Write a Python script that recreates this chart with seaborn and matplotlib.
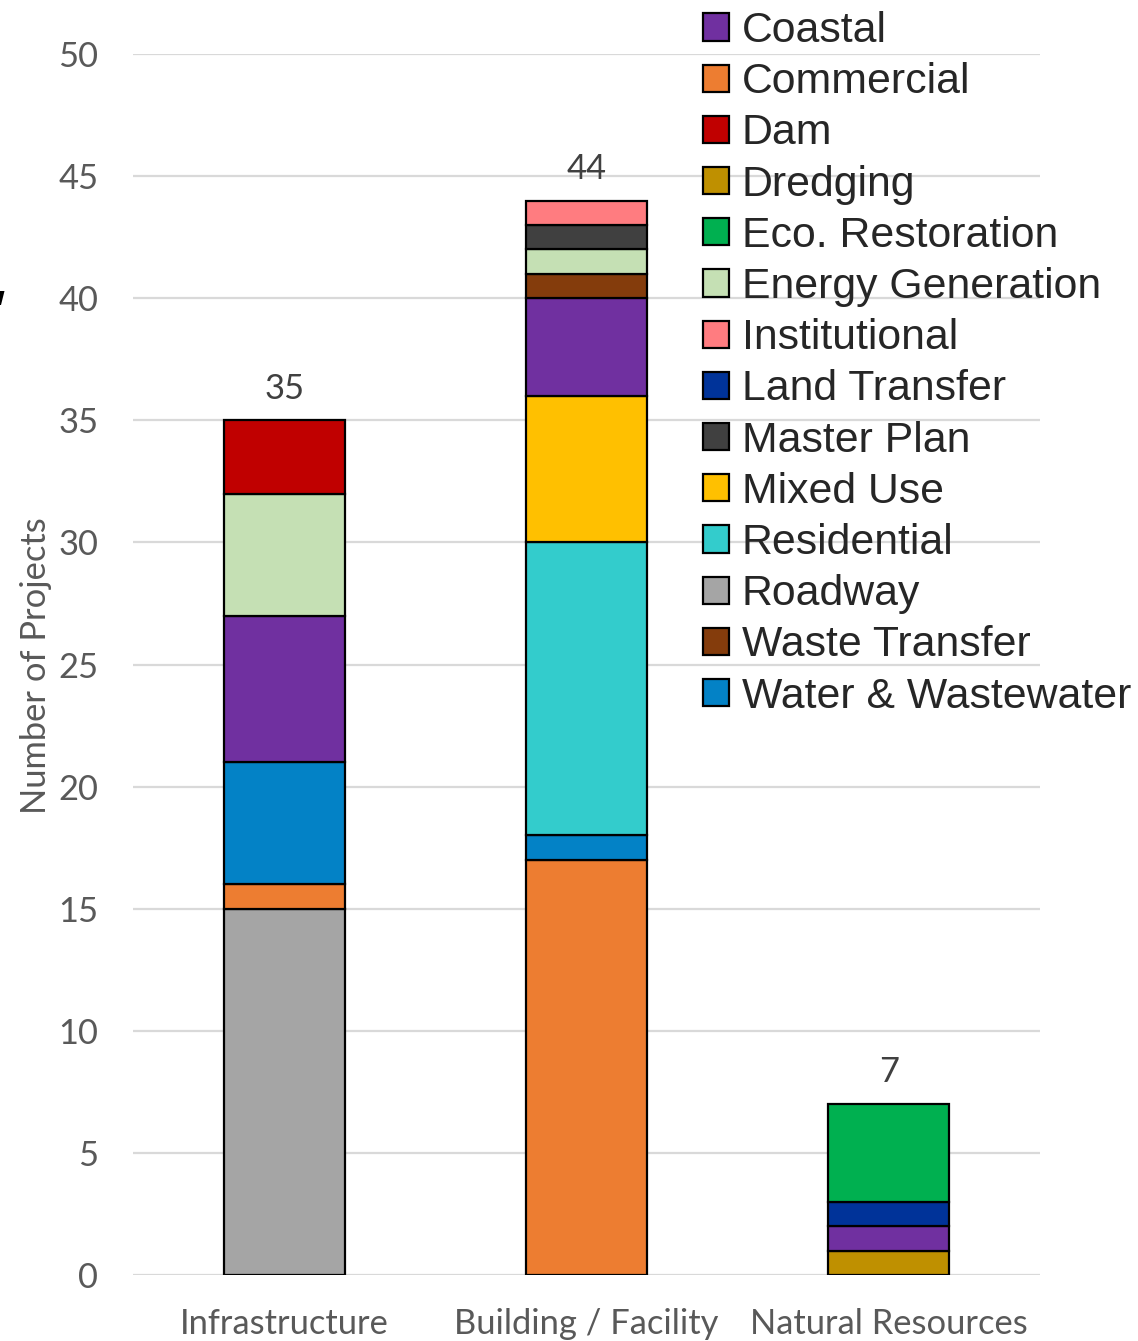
import matplotlib
matplotlib.use("Agg")
import matplotlib.pyplot as plt
from matplotlib.patches import Patch, Polygon
import seaborn as sns
import numpy as np

# Project groups on the x axis
categories = ["Infrastructure", "Building / Facility", "Natural Resources"]

# Project counts per type, one value per group (same order as categories)
roadway = [15, 0, 0]
dredging = [0, 0, 1]
commercial = [1, 17, 0]
water_wastewater = [5, 1, 0]
residential = [0, 12, 0]
mixed_use = [0, 6, 0]
coastal = [6, 4, 1]
land_transfer = [0, 0, 1]
eco_restoration = [0, 0, 4]
waste_transfer = [0, 1, 0]
energy_generation = [5, 1, 0]
master_plan = [0, 1, 0]
institutional = [0, 1, 0]
dam = [3, 0, 0]

# Stacking order, bottom to top
stack = [
    ("Roadway", roadway, "#A5A5A5"),
    ("Dredging", dredging, "#BF9000"),
    ("Commercial", commercial, "#ED7D31"),
    ("Water & Wastewater", water_wastewater, "#0382C6"),
    ("Residential", residential, "#33CCCC"),
    ("Mixed Use", mixed_use, "#FFC000"),
    ("Coastal", coastal, "#7030A0"),
    ("Land Transfer", land_transfer, "#003399"),
    ("Eco. Restoration", eco_restoration, "#00B050"),
    ("Waste Transfer", waste_transfer, "#843C0C"),
    ("Energy Generation", energy_generation, "#C5E0B4"),
    ("Master Plan", master_plan, "#404040"),
    ("Institutional", institutional, "#FF7C80"),
    ("Dam", dam, "#C00000"),
]

sns.set_style("white")
label_font = ["Lato", "DejaVu Sans"]
legend_font = ["Liberation Sans", "DejaVu Sans"]
gray = "#595959"
fs = 24.8

W, H = 1138, 1341
fig = plt.figure(figsize=(W / 100, H / 100), dpi=100)
ax = fig.add_axes([133 / W, 1 - 1275 / H, (1040 - 133) / W, (1275 - 54) / H])

base = np.zeros(len(categories))
for name, vals, color in stack:
    vals = np.array(vals, dtype=float)
    mask = vals > 0
    xs = [c for c, m in zip(categories, mask) if m]
    sns.barplot(x=xs, y=vals[mask], order=categories, bottom=base[mask],
                color=color, saturation=1, width=0.4, edgecolor="black",
                linewidth=1.6, errorbar=None, ax=ax, zorder=3)
    base = base + vals

# Totals above each stack
for i, total in enumerate(base):
    ax.text(i, total + 1.3, f"{int(total)}", ha="center", va="center",
            fontsize=fs, color="#404040", family=label_font)

ax.set_xlim(-0.5, 2.5)
ax.set_ylim(0, 50)
ax.set_yticks(np.arange(0, 51, 5))
ax.yaxis.grid(True, color="#D9D9D9", linewidth=1.6, zorder=0)
ax.set_axisbelow(True)
for s in ax.spines.values():
    s.set_visible(False)
ax.tick_params(axis="both", length=0, labelcolor=gray, labelsize=fs)
ax.tick_params(axis="y", pad=25)
ax.tick_params(axis="x", pad=24)
for lab in ax.get_xticklabels() + ax.get_yticklabels():
    lab.set_family(label_font)
ax.set_xlabel("")
ax.set_ylabel("Number of Projects", fontsize=fs, color=gray, family=label_font)
ax.yaxis.set_label_coords(-81 / 907, (1275 - 666) / 1221)

# Legend in alphabetical order
colors = {n: c for n, _, c in stack}
order = sorted(colors.keys(), key=lambda s: s.lower())
handles = [Patch(facecolor=colors[n], edgecolor="black", linewidth=1.6) for n in order]
fig.legend(handles, order, loc="upper left", bbox_to_anchor=(703 / W, 1 - 11 / H),
           frameon=False, prop={"family": legend_font, "size": 30.8},
           borderpad=0, borderaxespad=0, handlelength=0.6, handleheight=0.6,
           handletextpad=0.3, labelspacing=0.262)

# Small dark wedge at the left edge
fig.patches.append(Polygon([(0 / W, 1 - 291 / H), (4.5 / W, 1 - 291 / H), (1 / W, 1 - 305 / H), (0, 1 - 305 / H)],
                           closed=True, transform=fig.transFigure, facecolor="black",
                           edgecolor="none"))

fig.savefig("out.png", dpi=100)
